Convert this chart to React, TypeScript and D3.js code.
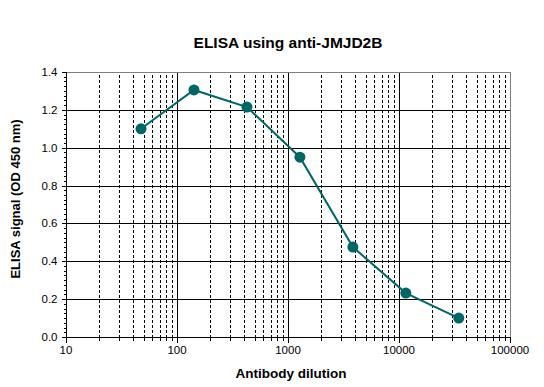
import * as d3 from "d3";
import React from "react";

const dilutions = [47.4, 142.2, 426.7, 1280, 3840, 11520, 34560];
const signals = [1.1, 1.305, 1.215, 0.95, 0.475, 0.232, 0.1];
const yTicks = [0, 0.2, 0.4, 0.6, 0.8, 1.0, 1.2, 1.4];
const xDecades = [10, 100, 1000, 10000, 100000];

const W = 544;
const H = 387;
const m = { left: 66, right: 34, top: 72, bottom: 50 };
const font = "'Liberation Sans', Arial, sans-serif";

// snap to pixel centre so 1px lines stay crisp
const px = (v: number) => Math.round(v) + 0.5;

const App = () => {
  const x = d3.scaleLog().domain([10, 100000]).range([m.left, W - m.right]);
  const y = d3.scaleLinear().domain([0, 1.4]).range([H - m.bottom, m.top]);

  const minorX: number[] = [];
  xDecades.slice(0, -1).forEach((d) => {
    for (let k = 2; k <= 9; k++) minorX.push(d * k);
  });
  const minorY = d3.range(0, 57).map((i) => i * 0.025);

  const line = d3
    .line<number>()
    .x((_, i) => x(dilutions[i]))
    .y((d) => y(d));

  const x0 = px(m.left);
  const x1 = px(W - m.right);
  const y0 = px(H - m.bottom);
  const y1 = px(m.top);
  const teal = "#006666";

  return (
    <svg width={W} height={H} style={{ position: "absolute", left: 0, top: 0, background: "#fff" }}>
      <rect width={W} height={H} fill="#fff" />
      {/* grid */}
      {minorX.map((v) => (
        <line key={"mx" + v} x1={px(x(v))} x2={px(x(v))} y1={y0} y2={y1} stroke="#000" strokeWidth={1} strokeDasharray="3,2" shapeRendering="crispEdges" />
      ))}
      {xDecades.slice(1, -1).map((v) => (
        <line key={"dx" + v} x1={px(x(v))} x2={px(x(v))} y1={y0} y2={y1} stroke="#000" strokeWidth={1} shapeRendering="crispEdges" />
      ))}
      {yTicks.slice(1, -1).map((v) => (
        <line key={"gy" + v} x1={x0} x2={x1} y1={px(y(v))} y2={px(y(v))} stroke="#000" strokeWidth={1} shapeRendering="crispEdges" />
      ))}
      {/* frame */}
      <line x1={x0} x2={x1} y1={y1} y2={y1} stroke="#808080" shapeRendering="crispEdges" />
      <line x1={x1} x2={x1} y1={y1} y2={y0} stroke="#808080" shapeRendering="crispEdges" />
      <line x1={x0} x2={x0} y1={y1} y2={y0 + 4} stroke="#000" shapeRendering="crispEdges" />
      <line x1={x0 - 4} x2={x1} y1={y0} y2={y0} stroke="#000" shapeRendering="crispEdges" />
      {/* y ticks */}
      {minorY.map((v, i) => (
        <line key={"my" + i} x1={x0 - 3} x2={x0} y1={px(y(v))} y2={px(y(v))} stroke="#000" shapeRendering="crispEdges" />
      ))}
      {yTicks.map((v) => (
        <g key={"yt" + v}>
          <line x1={x0 - 5} x2={x0} y1={px(y(v))} y2={px(y(v))} stroke="#000" shapeRendering="crispEdges" />
          <text x={x0 - 9} y={y(v) + 4} textAnchor="end" fontFamily={font} fontSize={11.5}>
            {v.toFixed(1)}
          </text>
        </g>
      ))}
      {/* x ticks */}
      {minorX.map((v) => (
        <line key={"xt" + v} x1={px(x(v))} x2={px(x(v))} y1={y0} y2={y0 + 3} stroke="#000" shapeRendering="crispEdges" />
      ))}
      {xDecades.map((v) => (
        <g key={"xl" + v}>
          <line x1={px(x(v))} x2={px(x(v))} y1={y0} y2={y0 + 5} stroke="#000" shapeRendering="crispEdges" />
          <text x={x(v)} y={y0 + 16} textAnchor="middle" fontFamily={font} fontSize={11.5}>
            {v}
          </text>
        </g>
      ))}
      {/* data */}
      <path d={line(signals) || ""} fill="none" stroke={teal} strokeWidth={2} />
      {signals.map((v, i) => (
        <circle key={"pt" + i} cx={x(dilutions[i])} cy={y(v)} r={5.5} fill={teal} />
      ))}
      {/* labels */}
      <text x={288} y={48} textAnchor="middle" fontFamily={font} fontSize={15.5} fontWeight="bold">
        ELISA using anti-JMJD2B
      </text>
      <text x={291} y={378} textAnchor="middle" fontFamily={font} fontSize={13.5} fontWeight="bold">
        Antibody dilution
      </text>
      <text
        transform="translate(20,199) rotate(-90)"
        textAnchor="middle"
        fontFamily={font}
        fontSize={13}
        fontWeight="bold"
      >
        ELISA signal (OD 450 nm)
      </text>
    </svg>
  );
};

export default App;
